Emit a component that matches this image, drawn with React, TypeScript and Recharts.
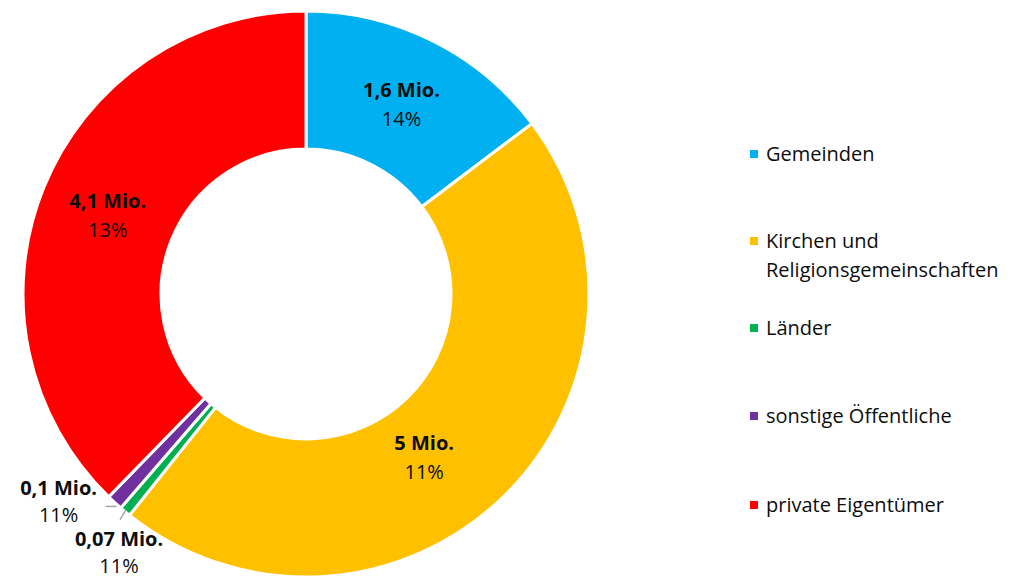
import { PieChart, Pie, Cell, Legend } from "recharts";

document.body.style.margin = "0";

const categories = [
  "Gemeinden",
  "Kirchen und Religionsgemeinschaften",
  "Länder",
  "sonstige Öffentliche",
  "private Eigentümer",
];
const values = [1.6, 5, 0.07, 0.1, 4.1];
const valueLabels = ["1,6 Mio.", "5 Mio.", "0,07 Mio.", "0,1 Mio.", "4,1 Mio."];
const percentLabels = ["14%", "11%", "11%", "11%", "13%"];
const colors = ["#00B0F0", "#FFC000", "#00B050", "#7030A0", "#FF0000"];

const data = categories.map((name, i) => ({ name, value: values[i] }));

const FONT = "'Open Sans', sans-serif";
const FS = 20;
const RAD = Math.PI / 180;

function renderLabel(props: any) {
  const { cx, cy, midAngle, innerRadius, outerRadius, index } = props;
  const bold = valueLabels[index];
  const pct = percentLabels[index];

  if (index === 2 || index === 3) {
    // small slices: outside label with a short leader line
    const ox = cx + outerRadius * Math.cos(-midAngle * RAD);
    const oy = cy + outerRadius * Math.sin(-midAngle * RAD);
    let line: string;
    let lx: number;
    let ly: number;
    if (index === 2) {
      line = `M${ox + 1},${oy - 2} L${ox - 5},${oy + 8}`;
      lx = ox - 6;
      ly = oy + 34;
    } else {
      line = `M${ox + 2},${oy + 4} L${ox - 9},${oy + 4}`;
      lx = ox - 56;
      ly = oy - 7;
    }
    return (
      <g>
        <path d={line} stroke="#a6a6a6" strokeWidth={1.5} fill="none" />
        <text x={lx} y={ly} textAnchor="middle" fontFamily={FONT} fontSize={FS} fill="#0d0d0d">
          <tspan x={lx} dy="0" fontWeight="bold">{bold}</tspan>
          <tspan x={lx} dy="27">{pct}</tspan>
        </text>
      </g>
    );
  }

  const shift = index === 1 ? -8 : 0;
  const r = (innerRadius + outerRadius) / 2 - (index === 1 ? 14 : 0);
  const a = (midAngle + shift) * RAD;
  const x = cx + r * Math.cos(-a);
  const y = cy + r * Math.sin(-a);
  return (
    <text x={x} y={y - 5} textAnchor="middle" fontFamily={FONT} fontSize={FS} fill="#0d0d0d">
      <tspan x={x} dy="0" fontWeight="bold">{bold}</tspan>
      <tspan x={x} dy="29">{pct}</tspan>
    </text>
  );
}

const legendTops = [139, 226, 313, 401, 490];

function renderLegend() {
  return (
    <div style={{ position: "relative", width: 270, height: 578, fontFamily: FONT }}>
      {categories.map((name, i) => (
        <div
          key={name}
          style={{
            position: "absolute",
            left: 0,
            top: legendTops[i],
            display: "flex",
            alignItems: "flex-start",
            fontSize: FS,
            lineHeight: "29px",
            color: "#0d0d0d",
            whiteSpace: "nowrap",
          }}
        >
          <span
            style={{
              display: "inline-block",
              width: 8,
              height: 8,
              background: colors[i],
              marginTop: 11,
              marginRight: 8,
              flex: "none",
            }}
          />
          <span>
            {i === 1 ? (
              <>
                Kirchen und
                <br />
                Religionsgemeinschaften
              </>
            ) : (
              name
            )}
          </span>
        </div>
      ))}
    </div>
  );
}

export default function App() {
  return (
    <div style={{ width: 1016, height: 578, background: "#fff" }}>
      <PieChart width={1016} height={578} margin={{ top: 0, right: 0, bottom: 0, left: 0 }}>
        <Pie
          data={data}
          dataKey="value"
          nameKey="name"
          cx={306}
          cy={294}
          innerRadius={145}
          outerRadius={283}
          startAngle={90}
          endAngle={-270}
          stroke="#ffffff"
          strokeWidth={3}
          label={renderLabel}
          labelLine={false}
          isAnimationActive={false}
        >
          {data.map((d, i) => (
            <Cell key={d.name} fill={colors[i]} />
          ))}
        </Pie>
        <Legend
          content={renderLegend}
          wrapperStyle={{ position: "absolute", left: 750, top: 0, width: 266, height: 578 }}
        />
      </PieChart>
    </div>
  );
}
